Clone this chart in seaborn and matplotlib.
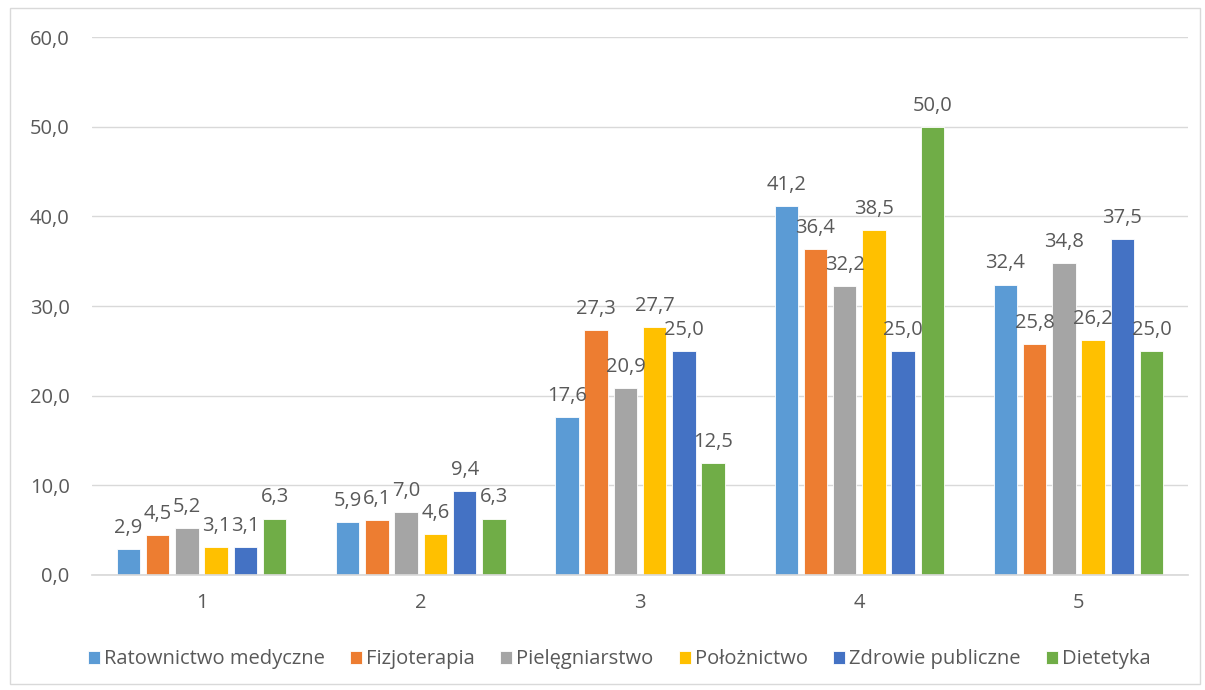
import matplotlib
matplotlib.use("Agg")
import matplotlib.pyplot as plt
import seaborn as sns
import pandas as pd
from matplotlib.patches import Rectangle

groups = ["1", "2", "3", "4", "5"]
series = ["Ratownictwo medyczne", "Fizjoterapia", "Pielęgniarstwo",
          "Położnictwo", "Zdrowie publiczne", "Dietetyka"]
ratownictwo = [2.9, 5.9, 17.6, 41.2, 32.4]
fizjoterapia = [4.5, 6.1, 27.3, 36.4, 25.8]
pielegniarstwo = [5.2, 7.0, 20.9, 32.2, 34.8]
poloznictwo = [3.1, 4.6, 27.7, 38.5, 26.2]
zdrowie = [3.1, 9.4, 25.0, 25.0, 37.5]
dietetyka = [6.3, 6.3, 12.5, 50.0, 25.0]
colors = ["#5B9BD5", "#ED7D31", "#A5A5A5", "#FFC000", "#4472C4", "#70AD47"]

values = [ratownictwo, fizjoterapia, pielegniarstwo, poloznictwo, zdrowie, dietetyka]
rows = []
for name, vals in zip(series, values):
    for g, v in zip(groups, vals):
        rows.append({"grupa": g, "kierunek": name, "wartosc": v})
df = pd.DataFrame(rows)

sns.set_theme(style="white")
plt.rcParams["font.family"] = ["Open Sans", "DejaVu Sans"]
text_color = "#595959"

fig = plt.figure(figsize=(12.05, 6.9), dpi=100)
ax = fig.add_axes([0.0763, 0.1667, 0.9097, 0.7793])

sns.barplot(data=df, x="grupa", y="wartosc", hue="kierunek",
            hue_order=series, order=groups, palette=colors, saturation=1,
            width=0.8, gap=0.2, ax=ax, legend=True, errorbar=None,
            edgecolor="white", linewidth=0.6)

for cont in ax.containers:
    ax.bar_label(cont, labels=[f"{v:.1f}".replace(".", ",") for v in cont.datavalues],
                 padding=8, fontsize=14.5, color=text_color)

ax.set_ylim(0, 60)
ax.set_yticks(range(0, 61, 10))
ax.set_yticklabels([f"{t},0" for t in range(0, 61, 10)])
ax.set_xlim(-0.5, 4.5)
ax.yaxis.grid(True, color="#D9D9D9", linewidth=1)
ax.set_axisbelow(True)
for s in ["top", "right", "left"]:
    ax.spines[s].set_visible(False)
ax.spines["bottom"].set_color("#D9D9D9")
ax.tick_params(axis="y", length=0, labelsize=14.5, colors=text_color, pad=16)
ax.tick_params(axis="x", length=0, labelsize=14.5, colors=text_color, pad=13)
ax.set_xlabel("")
ax.set_ylabel("")

handles, labels = ax.get_legend_handles_labels()
ax.legend(handles, labels, loc="center", bbox_to_anchor=(0.481, -0.157),
          ncol=6, frameon=False, fontsize=14.5, labelcolor=text_color,
          handlelength=0.6, handleheight=0.6, handletextpad=0.2, columnspacing=1.25)

fig.patches.append(Rectangle((0.008, 0.008), 0.988, 0.98, transform=fig.transFigure,
                             fill=False, edgecolor="#D9D9D9", linewidth=1))

fig.savefig("out.png", dpi=100)
